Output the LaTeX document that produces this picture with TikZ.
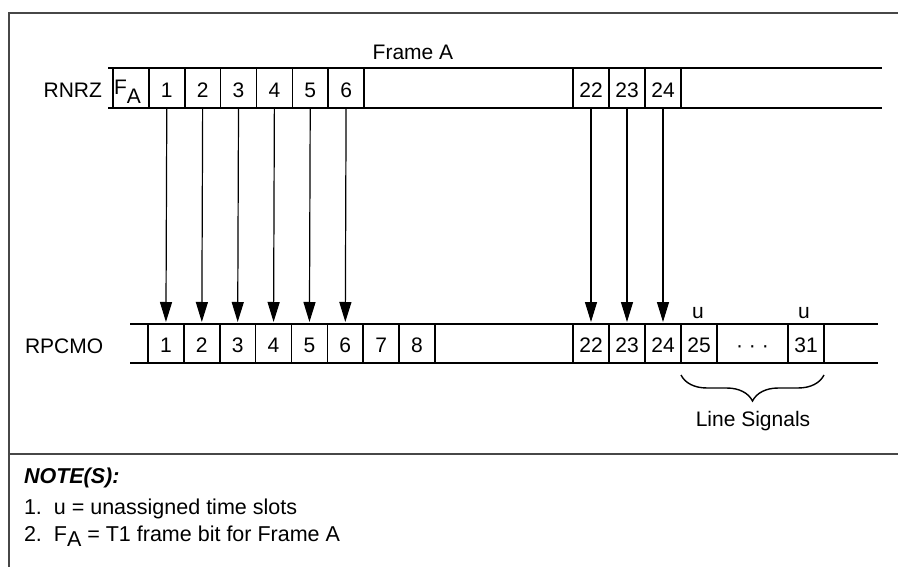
\documentclass[tikz,border=0pt]{standalone}
\usepackage{fontspec}
\setmainfont{Liberation Sans}
\usetikzlibrary{arrows.meta,decorations.pathreplacing}
\begin{document}
\begin{tikzpicture}[x=1pt,y=-1pt,
  every node/.style={font=\fontsize{21}{25}\selectfont, inner sep=0pt, outer sep=0pt},
  notefont/.style={font=\fontsize{21.5}{25}\selectfont},
  hline/.style={line width=2.4pt, line cap=butt},
  vline/.style={line width=1.6pt},
  border/.style={line width=2pt, draw=black!72},
  arr/.style={line width=1.2pt, -{Triangle[length=20pt,width=12pt]}, shorten >=2pt},
  cella/.style={minimum height=40pt, minimum width=35.86pt, text height=20pt, text depth=0pt},
  cellb/.style={minimum height=39pt, minimum width=35.875pt, text height=18pt, text depth=0pt},
  cellw/.style={minimum height=39pt, minimum width=36pt, text height=18pt, text depth=0pt}
]
\useasboundingbox (0,0) rectangle (898,567);
% border
\draw[border] (9,567) -- (9,13) -- (898,13);
\draw[border] (9,454) -- (898,454);

% ---------- RNRZ row ----------
\coordinate (ra1) at (108,68);
\coordinate (ra2) at (882,68);
\coordinate (rb1) at (108,108);
\coordinate (rb2) at (882,108);
\draw[hline] (ra1) -- (ra2);
\draw[hline] (rb1) -- (rb2);
\node[cella] (aF) at (130.93,88) {};
\node[anchor=base west] (fa) at (114,95) {F\raisebox{-9pt}{A}};
\foreach \i in {1,...,6} {
  \node[cella] (a\i) at ({113+35.86*(\i+0.5)},88) {\i};
}
\foreach \i/\x in {22/591,23/627,24/663} {
  \node[cellw, minimum height=40pt, text height=20pt] (a\i) at (\x,88) {\i};
}
\foreach \c in {aF,a1,a2,a3,a4,a5,a6,a22,a23,a24} {
  \draw[vline] (\c.north west) -- (\c.south west);
}
\draw[vline] (a6.north east) -- (a6.south east);
\draw[vline] (a24.north east) -- (a24.south east);
\node[anchor=base east] (rnrz) at (102,98) {RNRZ};
\node[anchor=base] (frameA) at (413,60) {Frame A};

% ---------- RPCMO row ----------
\coordinate (pa1) at (130,324);
\coordinate (pa2) at (878,324);
\coordinate (pb1) at (130,363);
\coordinate (pb2) at (878,363);
\draw[hline] (pa1) -- (pa2);
\draw[hline] (pb1) -- (pb2);
\foreach \i in {1,...,8} {
  \node[cellb] (b\i) at ({148+35.875*(\i-0.5)},343.5) {\i};
}
\foreach \i/\x in {22/591,23/627,24/663,25/699} {
  \node[cellw] (b\i) at (\x,343.5) {\i};
}
\node[minimum height=39pt, minimum width=71pt] (bdots) at (752.5,343.5) {};
\node[anchor=base] (dots) at (752.5,352.5) {·\ ·\ ·};
\node[cellw] (b31) at (806,343.5) {31};
\foreach \c in {b1,b2,b3,b4,b5,b6,b7,b8,b22,b23,b24,b25,b31} {
  \draw[vline] (\c.north west) -- (\c.south west);
}
\draw[vline] (b8.north east) -- (b8.south east);
\draw[vline] (b25.north east) -- (b25.south east);
\draw[vline] (b31.north east) -- (b31.south east);
\node[anchor=base west] (rpcmo) at (25,353) {RPCMO};

% u labels
\node[anchor=base] (u25) at (698,318) {u};
\node[anchor=base] (u31) at (804,318) {u};

% arrows
\foreach \i in {1,2,3,4,5,6,22,23,24} {
  \draw[arr] (a\i.south) -- (b\i.north);
}

% brace
\draw[line width=1.4pt, decorate, decoration={brace, mirror, amplitude=26pt}]
  ([yshift=-12pt]b25.south west) -- ([yshift=-12pt]b31.south east);
\node[anchor=base] (lines) at (753,426) {Line Signals};

% notes
\node[anchor=base west, font=\fontsize{21.5}{25}\selectfont\bfseries\itshape] (note) at (24,483) {NOTE(S):};
\node[notefont, anchor=base west] (n1) at (24,514) {1.\ \ u = unassigned time slots};
\node[notefont, anchor=base west] (n2) at (24,541) {2.\ \ F\raisebox{-5pt}{A} = T1 frame bit for Frame A};
\end{tikzpicture}
\end{document}
